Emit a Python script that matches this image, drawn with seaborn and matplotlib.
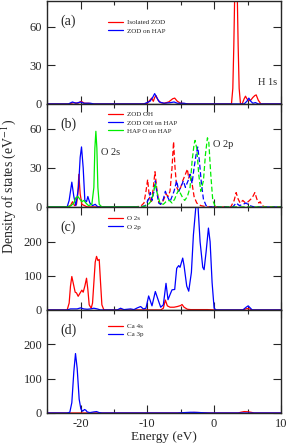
import numpy as np
import pandas as pd
import matplotlib
matplotlib.use("Agg")
import matplotlib.pyplot as plt
from matplotlib.ticker import MultipleLocator
import seaborn as sns

# ---- panel (a) H 1s ----
a_iso_e = [-25, -21.8, -21.0, -20.4, -19.9, -19.4, -18.8, -18.2, -10.8, -10.0, -9.6, -9.35, -9.1, -8.9, -8.7, -8.4,
           -8.0, -7.5, -6.8, -6.2, -5.9, -5.5, -5.0, -4.5, -3.5, 2.6, 2.8, 2.95, 3.1, 3.28, 3.45, 3.6, 3.75, 3.95,
           4.2, 4.5, 4.7, 4.9, 5.2, 5.5, 5.8, 6.1, 6.3, 6.6, 7.0, 10]
a_iso_v = [0, 0, 1, 0.5, 2, 0.5, 0.5, 0, 0, 0.5, 3, 4.5, 2, 5, 6.5, 3,
           1, 0.5, 1.5, 4, 4.5, 2, 0.5, 0.3, 0, 0, 12, 45, 90, 110, 90, 45, 12, 0,
           0, 4, 6, 4, 2.5, 3, 5, 6.5, 7, 3, 0, 0]
a_hap_e = [-25, -21.8, -21.2, -20.7, -20.0, -19.5, -18.5, -18.0, -10.5, -9.6, -9.2, -8.9, -8.6, -8.2, -7.5,
           -6.5, -6.0, -5.5, -4.5, -4.0, 4.5, 4.9, 5.2, 5.5, 5.8, 6.2, 6.6, 10]
a_hap_v = [0, 0, 1.5, 0.5, 1.5, 0.5, 0.5, 0, 0, 2, 5, 8, 5, 1.5, 0.5,
           1, 1.5, 0.5, 0.5, 0, 0, 2, 4.5, 2, 0.5, 1, 0, 0]

# ---- panel (b) O 2s (solid) and O 2p (dashed) ----
b_oh_s_e = [-25, -22, -21.5, -21.2, -20.9, -20.6, -20.4, -20.25, -20.05, -19.8, -19.4, -19.0, -12]
b_oh_s_v = [0, 0, 1, 4, 1, 2, 10, 25, 10, 2, 1, 0, 0]
b_ohh_s_e = [-25, -22, -21.7, -21.3, -21.0, -20.7, -20.3, -20.05, -19.85, -19.6, -19.35, -19.1, -18.9, -18.6,
             -18.2, -17.8, -17.4, -12]
b_ohh_s_v = [0, 0, 5, 19, 8, 1, 15, 38, 46, 30, 5, 4, 8, 3, 1, 2, 0, 0]
b_hap_s_e = [-25, -22, -21.4, -21.0, -20.7, -20.4, -20.1, -19.8, -19.5, -19.2, -18.8, -18.3, -18.0, -17.85,
             -17.7, -17.55, -17.4, -17.2, -16.8, -12]
b_hap_s_v = [0, 0, 1, 3, 7, 8, 6, 4, 5, 3, 1, 2, 15, 45, 58, 45, 15, 2, 0, 0]

b_oh_p_e = [-12, -11, -10.5, -10.2, -9.95, -9.7, -9.4, -9.1, -8.85, -8.6, -8.3, -8.0, -7.6, -7.2, -6.9, -6.6,
            -6.3, -6.07, -5.85, -5.6, -5.3, -5.0, -4.7, -4.3, -4.0, -3.8, -3.6, -3.3, -3.0, -2.6, -2.0, -1.0,
            2.5, 3.0, 3.3, 3.6, 3.9, 4.3, 4.7, 5.1, 5.5, 5.8, 6.1, 6.4, 6.7, 6.9, 7.2, 7.6, 10]
b_oh_p_v = [0, 0.5, 3, 12, 21, 8, 3, 15, 27, 15, 4, 2, 5, 10, 8, 12,
            30, 50, 30, 15, 12, 15, 20, 25, 29, 22, 25, 18, 8, 3, 1, 0,
            0, 5, 11, 6, 3, 5, 3, 4, 6, 8, 11, 6, 3, 4, 1, 0, 0]
b_ohh_p_e = [-12, -11, -10.3, -9.8, -9.55, -9.3, -9.0, -8.8, -8.6, -8.3, -8.0, -7.6, -7.3, -7.0, -6.6, -6.3,
             -6.0, -5.6, -5.3, -5.0, -4.6, -4.3, -3.9, -3.6, -3.3, -3.0, -2.7, -2.45, -2.2, -1.9, -1.6, -1.2,
             -0.8, 2.8, 3.3, 3.8, 4.3, 4.8, 5.3, 6.0, 10]
b_ohh_p_v = [0, 0, 1, 6, 11, 5, 12, 20, 12, 3, 2, 6, 12, 8, 4, 8,
             12, 20, 12, 15, 20, 15, 20, 25, 18, 30, 40, 46, 35, 18, 6, 1,
             0, 0, 3, 1, 2, 3, 1, 0, 0]
b_hap_p_e = [-12, -11, -10, -9.5, -9.1, -8.8, -8.5, -8.1, -7.6, -7.2, -6.7, -6.3, -5.9, -5.6, -5.3, -5.0,
             -4.7, -4.4, -4.0, -3.6, -3.3, -3.0, -2.85, -2.6, -2.3, -2.0, -1.6, -1.3, -1.0, -0.8, -0.5, -0.2,
             0.2, 10]
b_hap_p_v = [0, 0, 1, 4, 10, 18, 10, 3, 2, 4, 5, 3, 6, 10, 13, 10,
             7, 5, 8, 15, 35, 48, 51, 45, 25, 12, 20, 40, 53, 50, 25, 5,
             0, 0]

# ---- panel (c) O 2s / O 2p ----
c_o2s_e = [-25, -22.0, -21.7, -21.5, -21.3, -21.05, -20.8, -20.6, -20.35, -20.05, -19.8, -19.6, -19.35, -19.1,
           -18.9, -18.7, -18.4, -18.2, -18.0, -17.8, -17.6, -17.4, -17.2, -17.0, -16.8, -16.5, -8.0, -7.6,
           -7.3, -7.0, -6.6, -6.0, -5.5, -5.0, -4.8, -4.5, -4.0, -3.5, -1.0, 0.0, 4.3, 4.9, 5.3, 5.6, 10]
c_o2s_v = [0, 0, 20, 70, 98, 75, 52, 50, 40, 50, 58, 52, 70, 93,
           60, 15, 5, 20, 80, 140, 157, 145, 148, 80, 15, 0, 0, 5,
           29, 12, 8, 8, 10, 13, 16, 8, 2, 1, 1, 0, 0, 4, 3, 0, 0]
c_o2p_e = [-25, -22, -21.5, -20.5, -20, -19.5, -19, -18.5, -18, -17.5, -17, -14.5, -14, -13.5, -12.5, -12,
           -11.5, -11, -10.6, -10.2, -9.8, -9.3, -8.8, -8.3, -8.0, -7.6, -7.2, -6.9, -6.6, -6.3, -5.9, -5.6,
           -5.3, -5.1, -4.7, -4.5, -4.1, -3.8, -3.4, -3.1, -2.7, -2.4, -2.1, -1.7, -1.5, -1.2, -0.85, -0.6,
           -0.3, 0.0, 0.3, 4.3, 4.8, 5.1, 5.4, 5.7, 10]
c_o2p_v = [0, 0, 3, 3, 6, 3, 2, 3, 5, 3, 0, 0, 5, 1, 3, 1,
           6, 10, 3, 5, 41, 12, 54, 25, 8, 15, 78, 30, 45, 59, 60, 122,
           130, 125, 152, 130, 70, 55, 110, 220, 310, 300, 200, 125, 118, 170, 240, 200,
           80, 5, 0, 0, 8, 12, 6, 0, 0]

# ---- panel (d) Ca 4s / Ca 3p ----
d_ca4s_e = [-25, -4.0, -3.0, -2.0, -1.0, 3.6, 4.0, 4.5, 5.0, 5.5, 6.0, 10]
d_ca4s_v = [0, 0, 1.5, 1, 0, 0, 2, 4, 3.5, 2, 0, 0]
d_ca3p_e = [-25, -22, -21.6, -21.3, -21.0, -20.75, -20.5, -20.2, -19.95, -19.7, -19.4, -19.2, -19.0, -18.6,
            -18.0, -17.6, -17.2, -16.8, -5.5, -4.5, -3.5, -2.5, -1.5, -0.5, 10]
d_ca3p_v = [0, 0, 2, 30, 120, 173, 130, 40, 12, 5, 10, 8, 3, 1,
            3, 4, 1, 0, 0, 1, 2, 1.5, 0.5, 0, 0]

y_ticks_small = [0, 30, 60]
y_ticks_big = [0, 100, 200]

RED, BLUE, GREEN = "#ff0000", "#0000ff", "#00ee00"

sns.set_style("ticks")
plt.rcParams['font.family'] = ['Liberation Serif', 'DejaVu Serif']
plt.rcParams['axes.unicode_minus'] = False
plt.rcParams['mathtext.fontset'] = 'stix'


def curve(ax, e, v, color, label=None, dashed=False):
    df = pd.DataFrame({"E": e, "D": v})
    line = sns.lineplot(data=df, x="E", y="D", ax=ax, color=color, lw=0.9,
                        estimator=None, sort=False, label=label, legend=False)
    if dashed:
        ax.lines[-1].set_linestyle((0, (4, 2)))
    return line


fig, axs = plt.subplots(4, 1, figsize=(2.89, 4.45), dpi=100, sharex=True)
fig.subplots_adjust(left=0.163, right=0.972, top=0.998, bottom=0.072, hspace=0)

ax = axs[0]
curve(ax, a_iso_e, a_iso_v, RED, "Isolated ZOD")
curve(ax, a_hap_e, a_hap_v, BLUE, "ZOD on HAP")
ax.set_ylim(0, 80)
ax.set_yticks(y_ticks_small)
ax.text(6.5, 17, "H 1s", fontsize=7.5, ha="left", va="center")

ax = axs[1]
curve(ax, b_oh_s_e, b_oh_s_v, RED, "ZOD OH")
curve(ax, b_ohh_s_e, b_ohh_s_v, BLUE, "ZOD OH on HAP")
curve(ax, b_hap_s_e, b_hap_s_v, GREEN, "HAP O on HAP")
curve(ax, b_oh_p_e, b_oh_p_v, RED, dashed=True)
curve(ax, b_ohh_p_e, b_ohh_p_v, BLUE, dashed=True)
curve(ax, b_hap_p_e, b_hap_p_v, GREEN, dashed=True)
ax.set_ylim(0, 79)
ax.set_yticks(y_ticks_small)
ax.text(-16.9, 41.5, "O 2s", fontsize=7.5, ha="left", va="center")
ax.text(-0.2, 47.5, "O 2p", fontsize=7.5, ha="left", va="center")

ax = axs[2]
curve(ax, c_o2s_e, c_o2s_v, RED, "O 2s")
curve(ax, c_o2p_e, c_o2p_v, BLUE, "O 2p")
ax.set_ylim(0, 302)
ax.set_yticks(y_ticks_big)

ax = axs[3]
curve(ax, d_ca4s_e, d_ca4s_v, RED, "Ca 4s")
curve(ax, d_ca3p_e, d_ca3p_v, BLUE, "Ca 3p")
ax.set_ylim(0, 300)
ax.set_yticks(y_ticks_big)

leg_y = [0.82, 0.927, 0.917, 0.87]
for ax, tag, ly in zip(axs, ["(a)", "(b)", "(c)", "(d)"], leg_y):
    ax.set_xlim(-25, 10)
    ax.xaxis.set_major_locator(MultipleLocator(10))
    ax.xaxis.set_minor_locator(MultipleLocator(5))
    ax.tick_params(which="both", direction="in", top=True, right=True, labelsize=9, width=0.8)
    ax.tick_params(which="major", length=5.5)
    ax.tick_params(which="minor", length=3)
    ax.tick_params(axis="y", which="minor", left=False, right=False)
    for s in ax.spines.values():
        s.set_linewidth(1.0)
    ax.set_xlabel("")
    ax.set_ylabel("")
    ax.text(0.056, 0.80, tag, transform=ax.transAxes, fontsize=10, ha="left", va="center")
    ax.legend(loc="upper left", bbox_to_anchor=(0.26, ly), frameon=False, fontsize=5,
              borderpad=0, borderaxespad=0, handlelength=2.2, handletextpad=0.6, labelspacing=0.35)

axs[3].set_xlabel("Energy (eV)", fontsize=9.5, labelpad=1)
fig.text(0.028, 0.58, r"Density of states (eV$^{-1}$)", rotation=90, fontsize=10, ha="center", va="center")

fig.savefig("out.png", dpi=100)
